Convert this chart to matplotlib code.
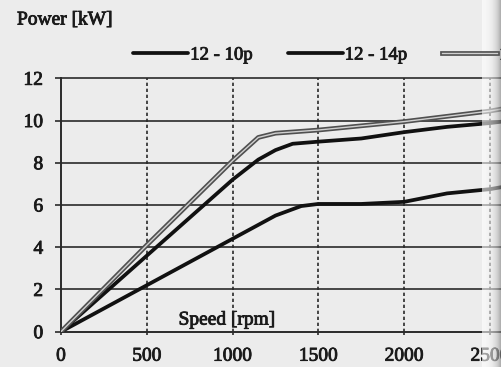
import numpy as np
import matplotlib
matplotlib.use("Agg")
import matplotlib.pyplot as plt
import matplotlib.patheffects as pe

plt.rcParams['font.family'] = ['Liberation Serif', 'DejaVu Serif']

# Data
speed = [0, 500, 1000, 1150, 1250, 1350, 1500, 1750, 2000, 2250, 2500, 2570]
p_10p = [0, 3.6, 7.2, 8.15, 8.6, 8.9, 9.0, 9.15, 9.45, 9.7, 9.88, 9.95]
speed_14 = [0, 500, 1000, 1250, 1400, 1500, 1750, 2000, 2250, 2500, 2570]
p_14p = [0, 2.2, 4.4, 5.5, 5.95, 6.05, 6.05, 6.15, 6.55, 6.75, 6.85]
speed_3 = [0, 500, 1000, 1150, 1250, 1500, 1750, 2000, 2250, 2500, 2570]
p_3 = [0, 4.1, 8.1, 9.2, 9.4, 9.55, 9.75, 9.95, 10.2, 10.45, 10.55]
labels = ["12 - 10p", "12 - 14p", "12 - 8p"]
xticks = [0, 500, 1000, 1500, 2000, 2500]
yticks = [0, 2, 4, 6, 8, 10, 12]

W, H = 502, 367
txt_c = '#1a1a1a'
thick = [pe.withStroke(linewidth=0.6, foreground=txt_c)]

fig = plt.figure(figsize=(W / 100, H / 100), dpi=100, facecolor='#ececec')
ax = fig.add_axes([61 / W, (H - 331.7) / H, (502 - 61) / W, (331.7 - 78.3) / H])
ax.set_facecolor('#ececec')
ax.set_xlim(0, 2570)
ax.set_ylim(0, 12)

grid_c = '#2a2a2a'
for y in yticks:
    ax.axhline(y, color=grid_c, lw=1.2, zorder=1, clip_on=False)
for x in xticks[1:]:
    ax.axvline(x, color=grid_c, lw=1.2, ls=(0, (2, 1.6)), zorder=1)

for s in ['top', 'right']:
    ax.spines[s].set_visible(False)
ax.spines['left'].set_color(grid_c)
ax.spines['left'].set_linewidth(1.4)
ax.spines['bottom'].set_color(grid_c)
ax.spines['bottom'].set_linewidth(1.2)

l1, = ax.plot(speed, p_10p, color='#111111', lw=2.7, zorder=3, label=labels[0],
              solid_capstyle='round')
l2, = ax.plot(speed_14, p_14p, color='#111111', lw=2.7, zorder=3, label=labels[1],
              solid_capstyle='round')
l3, = ax.plot(speed_3, p_3, color='#d0d0d0', lw=1.0, zorder=4, label=labels[2],
              path_effects=[pe.Stroke(linewidth=3.4, foreground='#505050'), pe.Normal()])

ax.set_xticks(xticks)
ax.set_yticks(yticks)
ax.set_xticklabels([str(v) for v in xticks], fontsize=14, color=txt_c)
ax.set_yticklabels([str(v) for v in yticks], fontsize=14, color=txt_c)
for t in ax.get_xticklabels() + ax.get_yticklabels():
    t.set_path_effects(thick)
ax.tick_params(axis='y', length=4.3, width=1.2, color=grid_c, pad=8.5)
ax.tick_params(axis='x', length=2, width=1.2, color=grid_c, pad=9.5)

ax.text(968, 0.55, "Speed [rpm]", fontsize=14, color=txt_c,
        ha='center', va='center', zorder=5, path_effects=thick)
fig.text(17 / W, 1 - 20 / H, "Power [kW]", fontsize=14,
         color=txt_c, ha='left', va='center', path_effects=thick)

leg = fig.legend(handles=[l1, l2, l3], loc='center left',
                 bbox_to_anchor=(133 / W, 1 - 55 / H), ncol=3, frameon=False,
                 fontsize=13.5, handlelength=2.95, handletextpad=0.1, columnspacing=1.85,
                 borderaxespad=0, borderpad=0)
for t in leg.get_texts():
    t.set_color(txt_c)
    t.set_path_effects(thick)

# page binding shadow at right edge
sh = fig.add_axes([482 / W, 0, 20 / W, 1])
grad = np.linspace(0, 1, 64).reshape(1, -1) ** 2
sh.imshow(grad, aspect='auto', cmap='Greys', vmin=0, vmax=1.6, alpha=0.6,
          extent=[0, 1, 0, 1])
sh.axis('off')

fig.savefig('out.png', dpi=100, facecolor=fig.get_facecolor())
